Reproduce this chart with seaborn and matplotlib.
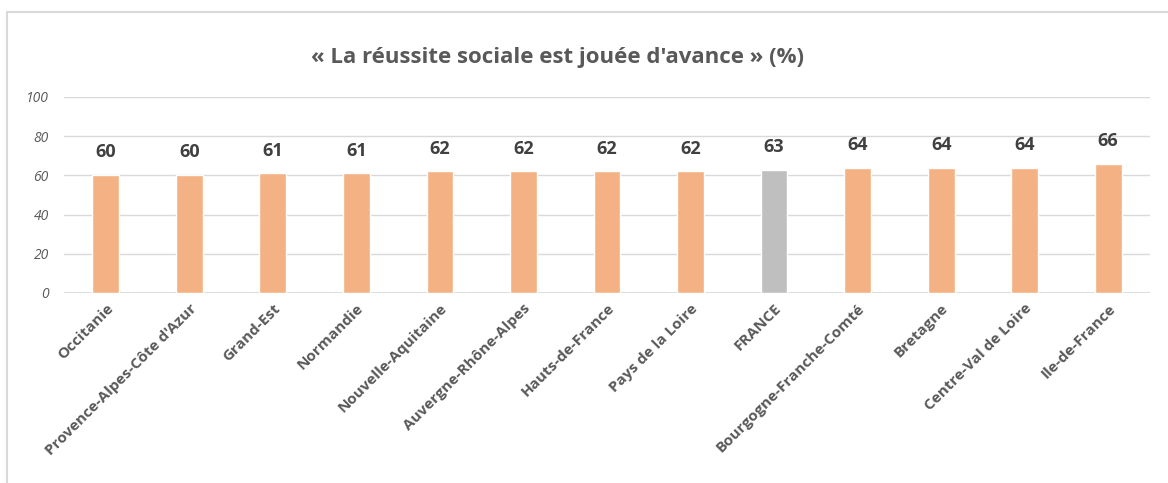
import matplotlib
matplotlib.use("Agg")
import matplotlib.pyplot as plt
import seaborn as sns
import pandas as pd
from matplotlib.patches import Rectangle

regions = ["Occitanie", "Provence-Alpes-Côte d'Azur", "Grand-Est", "Normandie",
           "Nouvelle-Aquitaine", "Auvergne-Rhône-Alpes", "Hauts-de-France",
           "Pays de la Loire", "FRANCE", "Bourgogne-Franche-Comté", "Bretagne",
           "Centre-Val de Loire", "Ile-de-France"]
values = [60, 60, 61, 61, 62, 62, 62, 62, 63, 64, 64, 64, 66]
title = "« La réussite sociale est jouée d'avance » (%)"

data = pd.DataFrame({"region": regions, "pct": values})
palette = {r: ("#BFBFBF" if r == "FRANCE" else "#F4B183") for r in regions}

sns.set_style("white")
plt.rcParams["font.family"] = ["Open Sans", "DejaVu Sans"]

fig = plt.figure(figsize=(11.68, 4.83), dpi=100)
ax = fig.add_axes([0.0548, 0.3934, 0.9298, 0.4058])

sns.barplot(data=data, x="region", y="pct", hue="region", palette=palette,
            width=0.32, legend=False, ax=ax, saturation=1)

ax.set_ylim(0, 100)
ax.set_xlim(-0.5, len(regions) - 0.5)
ax.set_yticks(range(0, 101, 20))
ax.yaxis.grid(True, color="#D9D9D9", linewidth=1)
ax.set_axisbelow(True)
for s in ax.spines.values():
    s.set_visible(False)
ax.axhline(0, color="#D9D9D9", linewidth=1.2, zorder=0)

ax.set_xlabel("")
ax.set_ylabel("")
ax.tick_params(axis="both", length=0)
ax.tick_params(axis="y", pad=11)
for lab in ax.get_yticklabels():
    lab.set_fontstyle("italic")
    lab.set_color("#595959")
    lab.set_fontsize(10)
ax.set_xticks(range(len(regions)))
ax.set_xticklabels(regions, rotation=45, ha="right", rotation_mode="anchor",
                   fontsize=11, fontweight="bold", color="#595959")
ax.tick_params(axis="x", pad=6)

for i, v in enumerate(values):
    ax.annotate(str(v), (i, v), xytext=(0, 10), textcoords="offset points",
                ha="center", va="bottom", fontsize=13, fontweight="bold",
                color="#404040")

fig.text(0.477, 0.88, title, ha="center", va="center", fontsize=16,
         fontweight="bold", color="#595959")

# chart frame
fig.patches.append(Rectangle((7 / 1168, -0.1), 1.2, 1 - 12 / 483 + 0.1,
                             transform=fig.transFigure, fill=False,
                             edgecolor="#D9D9D9", linewidth=1.5))

fig.savefig("out.png", dpi=100, facecolor="white")
